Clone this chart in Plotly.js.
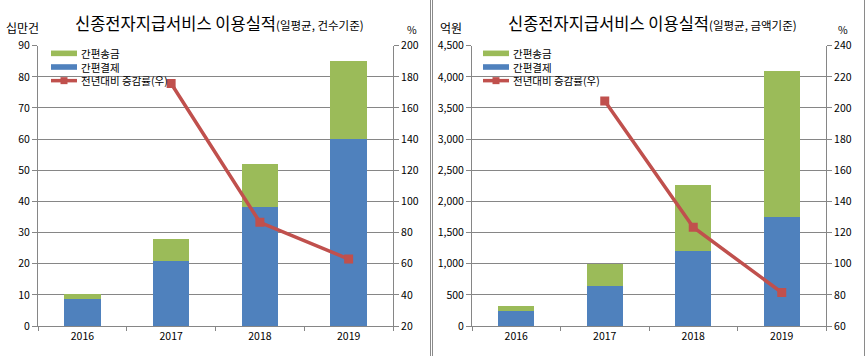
<!DOCTYPE html>
<html>
<head>
<meta charset="utf-8">
<script src="https://cdn.plot.ly/plotly-3.0.1.min.js"></script>
<style>html,body{margin:0;padding:0;background:#fff;}#chart{width:866px;height:356px;}</style>
</head>
<body>
<div id="chart"></div>
<script>
// ---- data ----
const years = ['2016', '2017', '2018', '2019'];
// left chart: count basis (unit: 십만건)
const countPayment = [8.6, 20.8, 38.2, 60.0];     // 간편결제
const countTransfer = [1.6, 7.1, 13.8, 25.0];     // 간편송금
const countGrowth = [null, 175.7, 86.6, 63.0];    // 전년대비 증감률(우), %
// right chart: amount basis (unit: 억원)
const amountPayment = [242, 650, 1210, 1747];     // 간편결제
const amountTransfer = [81, 350, 1048, 2340];     // 간편송금
const amountGrowth = [null, 204.5, 123.4, 81.5];  // 전년대비 증감률(우), %

const seriesNames = ['간편송금', '간편결제', '전년대비 증감률(우)'];
const titleMain = '신종전자지급서비스 이용실적';
const titleSubLeft = '(일평균, 건수기준)';
const titleSubRight = '(일평균, 금액기준)';

// ---- styles ----
const BLUE = '#4F81BD', GREEN = '#9BBB59', RED = '#C0504D', GRID = '#868686';
const FONT = 'Noto Sans CJK KR, Malgun Gothic, sans-serif';
const W = 866, H = 356;
const px = v => v / W, py = v => 1 - v / H;

function barTrace(x, y, name, color, xa, ya) {
  return {type: 'bar', x: x, y: y, name: name, marker: {color: color, line: {width: 0}},
          xaxis: xa, yaxis: ya, showlegend: false, hoverinfo: 'skip'};
}
function lineTrace(x, y, name, xa, ya) {
  return {type: 'scatter', mode: 'lines+markers', x: x, y: y, name: name,
          line: {color: RED, width: 3.5}, marker: {symbol: 'square', size: 9, color: RED},
          xaxis: xa, yaxis: ya, showlegend: false, connectgaps: false, hoverinfo: 'skip'};
}

const data = [
  barTrace(years, countPayment, seriesNames[1], BLUE, 'x', 'y'),
  barTrace(years, countTransfer, seriesNames[0], GREEN, 'x', 'y'),
  lineTrace(years, countGrowth, seriesNames[2], 'x', 'y2'),
  barTrace(years, amountPayment, seriesNames[1], BLUE, 'x2', 'y3'),
  barTrace(years, amountTransfer, seriesNames[0], GREEN, 'x2', 'y3'),
  lineTrace(years, amountGrowth, seriesNames[2], 'x2', 'y4')
];

const tickFont = {family: FONT, size: 10.5, color: '#000'};
const yDom = [30 / H, 310.3 / H];
function xAxis(dom, anchor) {
  return {domain: dom, anchor: anchor, type: 'category', showline: true, linecolor: GRID, linewidth: 1,
          ticks: 'outside', tickson: 'boundaries', ticklen: 4, tickcolor: GRID, showgrid: false,
          tickfont: tickFont, fixedrange: true, zeroline: false};
}
function yLeft(range, dtick, anchor, fmt) {
  return {domain: yDom, anchor: anchor, range: range, dtick: dtick, tick0: 0, showline: true, linecolor: GRID,
          ticks: 'outside', ticklen: 5, tickcolor: GRID, showgrid: true, gridcolor: GRID, gridwidth: 1,
          zeroline: false, tickfont: tickFont, tickformat: fmt, separatethousands: true};
}
function yRight(range, dtick, anchor, overlay) {
  return {domain: yDom, anchor: anchor, overlaying: overlay, side: 'right', range: range, dtick: dtick, tick0: 0,
          showline: true, linecolor: GRID, ticks: 'outside', ticklen: 5, tickcolor: GRID, showgrid: false,
          zeroline: false, tickfont: tickFont};
}
function ann(text, x, y, size, anchor) {
  return {text: text, x: px(x), y: py(y), xref: 'paper', yref: 'paper', showarrow: false,
          xanchor: anchor || 'center', yanchor: 'middle', align: 'left', borderpad: 0,
          font: {family: FONT, size: size, color: '#000'}};
}
function pline(x0, y0, x1, y1, color, width) {
  return {type: 'line', xref: 'paper', yref: 'paper', x0: px(x0), x1: px(x1), y0: py(y0), y1: py(y1),
          line: {color: color, width: width}};
}
function prect(x0, y0, x1, y1, color) {
  return {type: 'rect', xref: 'paper', yref: 'paper', x0: px(x0), x1: px(x1), y0: py(y0), y1: py(y1),
          fillcolor: color, line: {width: 0}};
}

// manual legend (Excel style: wide swatches, tight rows); text as one multi-line block
const LEG_FONT = 10.5, LEG_STEP = LEG_FONT * 1.3, LEG_MID = 67;
const legendRows = [LEG_MID - LEG_STEP, LEG_MID, LEG_MID + LEG_STEP];
function legendParts(x0) {
  const shapes = [
    prect(x0, legendRows[0] - 2.8, x0 + 26, legendRows[0] + 2.8, GREEN),
    prect(x0, legendRows[1] - 2.8, x0 + 26, legendRows[1] + 2.8, BLUE),
    pline(x0, legendRows[2], x0 + 26, legendRows[2], RED, 3.5),
    prect(x0 + 9.5, legendRows[2] - 3.5, x0 + 16.5, legendRows[2] + 3.5, RED)
  ];
  const anns = [ann(seriesNames.join('<br>'), x0 + 28.5, LEG_MID, LEG_FONT, 'left')];
  return {shapes, anns};
}
const legL = legendParts(51), legR = legendParts(483);

const layout = {
  width: W, height: H, margin: {l: 0, r: 0, t: 0, b: 0},
  paper_bgcolor: '#fff', plot_bgcolor: 'rgba(0,0,0,0)',
  barmode: 'stack', bargap: 0.59, showlegend: false,
  xaxis: xAxis([38 / W, 393 / W], 'y'),
  yaxis: yLeft([0, 90], 10, 'x', ''),
  yaxis2: yRight([20, 200], 20, 'x', 'y'),
  xaxis2: xAxis([472 / W, 826 / W], 'y3'),
  yaxis3: yLeft([0, 4500], 500, 'x2', ',d'),
  yaxis4: yRight([60, 240], 20, 'x2', 'y3'),
  annotations: [
    ann(titleMain + '<span style="font-size:11.5px">' + titleSubLeft + '</span>', 74, 23, 16.5, 'left'),
    ann(titleMain + '<span style="font-size:11.5px">' + titleSubRight + '</span>', 507, 23, 16.5, 'left'),
    ann('십만건', 22, 28, 12),
    ann('%', 412, 29, 10.5),
    ann('억원', 451, 28, 12),
    ann('%', 843, 29, 10.5)
  ].concat(legL.anns, legR.anns),
  shapes: [
    pline(430.5, 0, 430.5, H, '#8a8a8a', 1),
    pline(432.5, 0, 432.5, H, '#8a8a8a', 1),
    pline(864.5, 0, 864.5, H, '#8a8a8a', 1)
  ].concat(legL.shapes, legR.shapes)
};

Plotly.newPlot('chart', data, layout, {staticPlot: true, displayModeBar: false});
</script>
</body>
</html>
